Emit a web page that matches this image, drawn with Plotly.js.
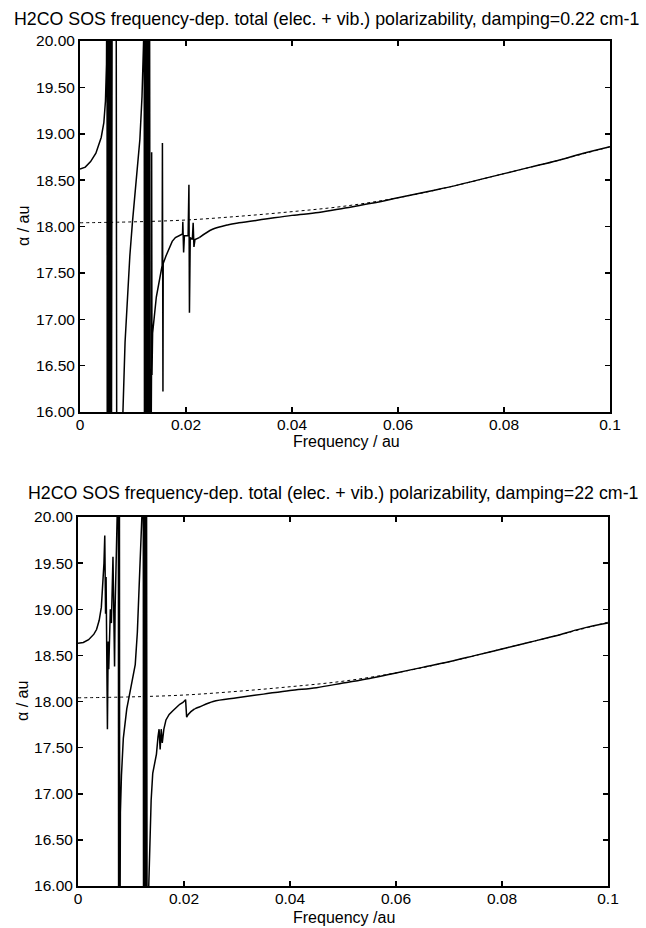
<!DOCTYPE html>
<html>
<head>
<meta charset="utf-8">
<script src="https://cdn.plot.ly/plotly-3.0.1.min.js"></script>
<style>html,body{margin:0;padding:0;background:#fff;}#chart{width:646px;height:928px;}</style>
</head>
<body>
<div id="chart"></div>
<script>
// Damping = 0.22 cm-1 (top panel)
const freqTop = [0,0.001,0.002,0.003,0.004,0.0045,0.0048,0.0050,0.0051,0.00515,0.0052,0.00535,0.0054,0.0055,0.00555,0.0057,0.00575,0.0059,0.00595,0.0061,0.0068,0.0070,0.0080,0.0081,0.0085,0.0089,0.0094,0.0099,0.0106,0.0113,0.0117,0.0120,0.0121,0.0122,0.0123,0.0124,0.0125,0.0126,0.0127,0.0128,0.0129,0.0130,0.0131,0.0132,0.0133,0.01345,0.0135,0.01352,0.01358,0.0137,0.0144,0.0150,0.0155,0.01555,0.01565,0.0157,0.0162,0.0168,0.0174,0.0180,0.0188,0.01935,0.0194,0.01955,0.0197,0.0204,0.02055,0.02065,0.0208,0.0212,0.02135,0.0215,0.0217,0.0225,0.025,0.028,0.03,0.035,0.04,0.045,0.05,0.055,0.06,0.065,0.07,0.075,0.08,0.085,0.09,0.095,0.1];
const alphaTop = [18.62,18.64,18.70,18.79,18.96,19.12,19.35,19.75,21,14,22,14,22,14,22,14,22,14,18.65,22,22,12,12,16.0,16.75,17.24,17.68,18.05,18.5,18.94,19.4,20.0,22,12,22,12,22,12,22,12,22,12,22,12,12,16.0,16.5,18.8,16.4,16.85,17.24,17.45,17.58,18.9,16.22,17.6,17.68,17.76,17.84,17.88,17.9,17.92,18.05,17.72,17.9,17.9,18.45,17.07,17.88,17.86,18.04,17.78,17.86,17.88,17.97,18.02,18.04,18.08,18.12,18.15,18.2,18.25,18.31,18.37,18.43,18.5,18.57,18.64,18.71,18.79,18.86];

// Damping = 22 cm-1 (bottom panel)
const freqBottom = [0,0.001,0.002,0.003,0.0035,0.004,0.0044,0.0047,0.0049,0.00505,0.0052,0.0053,0.00555,0.0057,0.0058,0.0061,0.0063,0.0066,0.0069,0.0070,0.0073,0.0075,0.0076,0.0077,0.0078,0.0079,0.00795,0.0080,0.0082,0.00855,0.0092,0.0098,0.0104,0.0108,0.0112,0.0116,0.0120,0.01225,0.0123,0.0124,0.0125,0.0126,0.0127,0.0128,0.0129,0.0130,0.0131,0.01335,0.0136,0.0138,0.0141,0.0148,0.0151,0.0153,0.0155,0.0157,0.0159,0.0162,0.0166,0.0172,0.0179,0.0186,0.0192,0.0198,0.0203,0.0205,0.0208,0.0213,0.022,0.0229,0.0255,0.03,0.035,0.04,0.045,0.05,0.055,0.06,0.065,0.07,0.075,0.08,0.085,0.09,0.095,0.1];
const alphaBottom = [18.63,18.64,18.67,18.73,18.78,18.88,19.02,19.28,19.5,19.80,18.95,19.35,17.70,18.65,18.35,19.0,18.85,19.57,18.38,19.0,19.7,20.3,22,12,22,12,16.0,16.8,17.2,17.6,17.92,18.1,18.28,18.4,18.75,19.28,19.8,20.3,22,12,22,12,22,12,22,12,12,16.0,16.55,16.93,17.22,17.43,17.62,17.70,17.48,17.70,17.55,17.70,17.80,17.86,17.90,17.94,17.97,17.99,18.02,17.83,17.86,17.89,17.92,17.94,18.0,18.04,18.08,18.12,18.15,18.2,18.25,18.31,18.37,18.43,18.5,18.57,18.64,18.71,18.79,18.85];

// Electronic-only polarizability (dotted reference curve)
const freqElec = [0,0.01,0.02,0.03,0.04,0.05,0.06,0.07,0.08,0.09,0.1];
const alphaElec = [18.04,18.05,18.07,18.11,18.16,18.22,18.31,18.43,18.57,18.71,18.86];

const titleTop = 'H2CO SOS frequency-dep. total (elec. + vib.) polarizability, damping=0.22 cm-1';
const titleBottom = 'H2CO SOS frequency-dep. total (elec. + vib.) polarizability, damping=22 cm-1';
const xTitleTop = 'Frequency / au';
const xTitleBottom = 'Frequency /au';
const yTitle = 'α / au';
const yTicks = [16,16.5,17,17.5,18,18.5,19,19.5,20];
const xTicks = [0,0.02,0.04,0.06,0.08,0.1];

const W = 646, H = 928;
const px = v => v / W, py = v => 1 - v / H;
const FONT = 'Liberation Sans, Arial, Helvetica, sans-serif';
const SPLIT = 0.022; // resonance region drawn straight, smooth tail drawn as spline

const solid = {color: '#000', width: 1.5};
const dotted = {color: '#000', width: 1, dash: 'dot'};

function pieces(fx, fy, xa, ya) {
  let k = fx.findIndex(f => f >= SPLIT);
  return [
    {x: fx.slice(0, k + 1), y: fy.slice(0, k + 1), xaxis: xa, yaxis: ya, mode: 'lines', line: solid},
    {x: fx.slice(k), y: fy.slice(k), xaxis: xa, yaxis: ya, mode: 'lines', line: Object.assign({shape: 'spline', smoothing: 1}, solid)}
  ];
}

const traces = [
  {x: freqElec, y: alphaElec, xaxis: 'x', yaxis: 'y', mode: 'lines', line: Object.assign({shape: 'spline'}, dotted)},
  ...pieces(freqTop, alphaTop, 'x', 'y'),
  {x: freqElec, y: alphaElec, xaxis: 'x2', yaxis: 'y2', mode: 'lines', line: Object.assign({shape: 'spline'}, dotted)},
  ...pieces(freqBottom, alphaBottom, 'x2', 'y2')
];

const common = {showline: true, linewidth: 2, linecolor: '#000', mirror: 'ticks', ticks: 'inside', ticklen: 5, tickwidth: 1.5,
  tickcolor: '#000', showgrid: false, zeroline: false, fixedrange: true,
  tickfont: {family: FONT, size: 15.5, color: '#000'}};

function xa(domain, anchor) {
  return Object.assign({domain: domain, anchor: anchor, range: [0, 0.1], tickvals: xTicks, ticktext: xTicks.map(String),
    ticklabelstandoff: -3}, common);
}
function ya(domain, anchor) {
  return Object.assign({domain: domain, anchor: anchor, range: [16, 20], tickvals: yTicks, ticktext: yTicks.map(v => v.toFixed(2))}, common);
}

const ann = (text, x, y, size, opts) => Object.assign({text: text, xref: 'paper', yref: 'paper', x: px(x), y: py(y),
  showarrow: false, font: {family: FONT, size: size, color: '#000'}, xanchor: 'center', yanchor: 'middle'}, opts || {});

const layout = {
  width: W, height: H,
  margin: {l: 0, r: 0, t: 0, b: 0},
  paper_bgcolor: '#fff', plot_bgcolor: '#fff',
  showlegend: false,
  xaxis: xa([px(80), px(610)], 'y'),
  yaxis: ya([py(412), py(41)], 'x'),
  xaxis2: xa([px(78), px(608)], 'y2'),
  yaxis2: ya([py(886), py(517)], 'x2'),
  annotations: [
    ann(titleTop, 641, 19, 17.8, {xanchor: 'right'}),
    ann(titleBottom, 641, 493, 17.8, {xanchor: 'right'}),
    ann(xTitleTop, 346, 442, 16),
    ann(xTitleBottom, 344, 917, 16),
    ann(yTitle, 24, 226, 16, {textangle: -90}),
    ann(yTitle, 22, 701, 16, {textangle: -90})
  ]
};

Plotly.newPlot('chart', traces, layout, {displayModeBar: false, staticPlot: true});
</script>
</body>
</html>
